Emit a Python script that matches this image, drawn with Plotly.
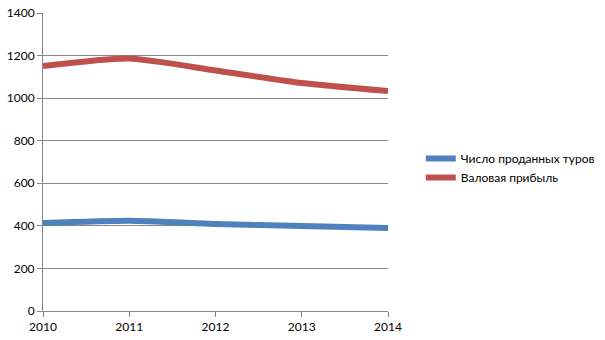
import plotly.graph_objects as go

years = [2010, 2011, 2012, 2013, 2014]
tours_sold = [413, 424, 409, 399, 390]
gross_profit = [1151, 1186, 1130, 1071, 1033]
series_names = ["Число проданных туров", "Валовая прибыль"]
colors = ["#4F81BD", "#C0504D"]

fig = go.Figure()
for name, vals, c in zip(series_names, [tours_sold, gross_profit], colors):
    fig.add_trace(go.Scatter(x=years, y=vals, mode="lines", name=name,
                             line=dict(color=c, width=6, shape="spline", smoothing=0.6)))

fig.update_layout(
    width=605, height=340,
    margin=dict(l=43, r=217, t=13, b=29, autoexpand=False),
    paper_bgcolor="white", plot_bgcolor="white",
    font=dict(family="Lato, Carlito, sans-serif", size=12, color="#000000"),
    showlegend=True,
    legend=dict(x=1.095, xanchor="left", y=0.48, yanchor="middle",
                font=dict(size=12), tracegroupgap=0, itemwidth=30),
    xaxis=dict(range=[2010, 2014], tickvals=years, ticktext=[str(y) for y in years],
               showgrid=False, showline=True, linecolor="#868686", linewidth=1,
               ticks="outside", ticklen=5, tickcolor="#868686", zeroline=False,
               automargin=False),
    yaxis=dict(range=[0, 1400], dtick=200, showgrid=True, gridcolor="#868686", gridwidth=1,
               showline=True, linecolor="#868686", linewidth=1,
               ticks="outside", ticklen=5, tickcolor="#868686", zeroline=False,
               automargin=False),
)
fig.write_html("out.html")
